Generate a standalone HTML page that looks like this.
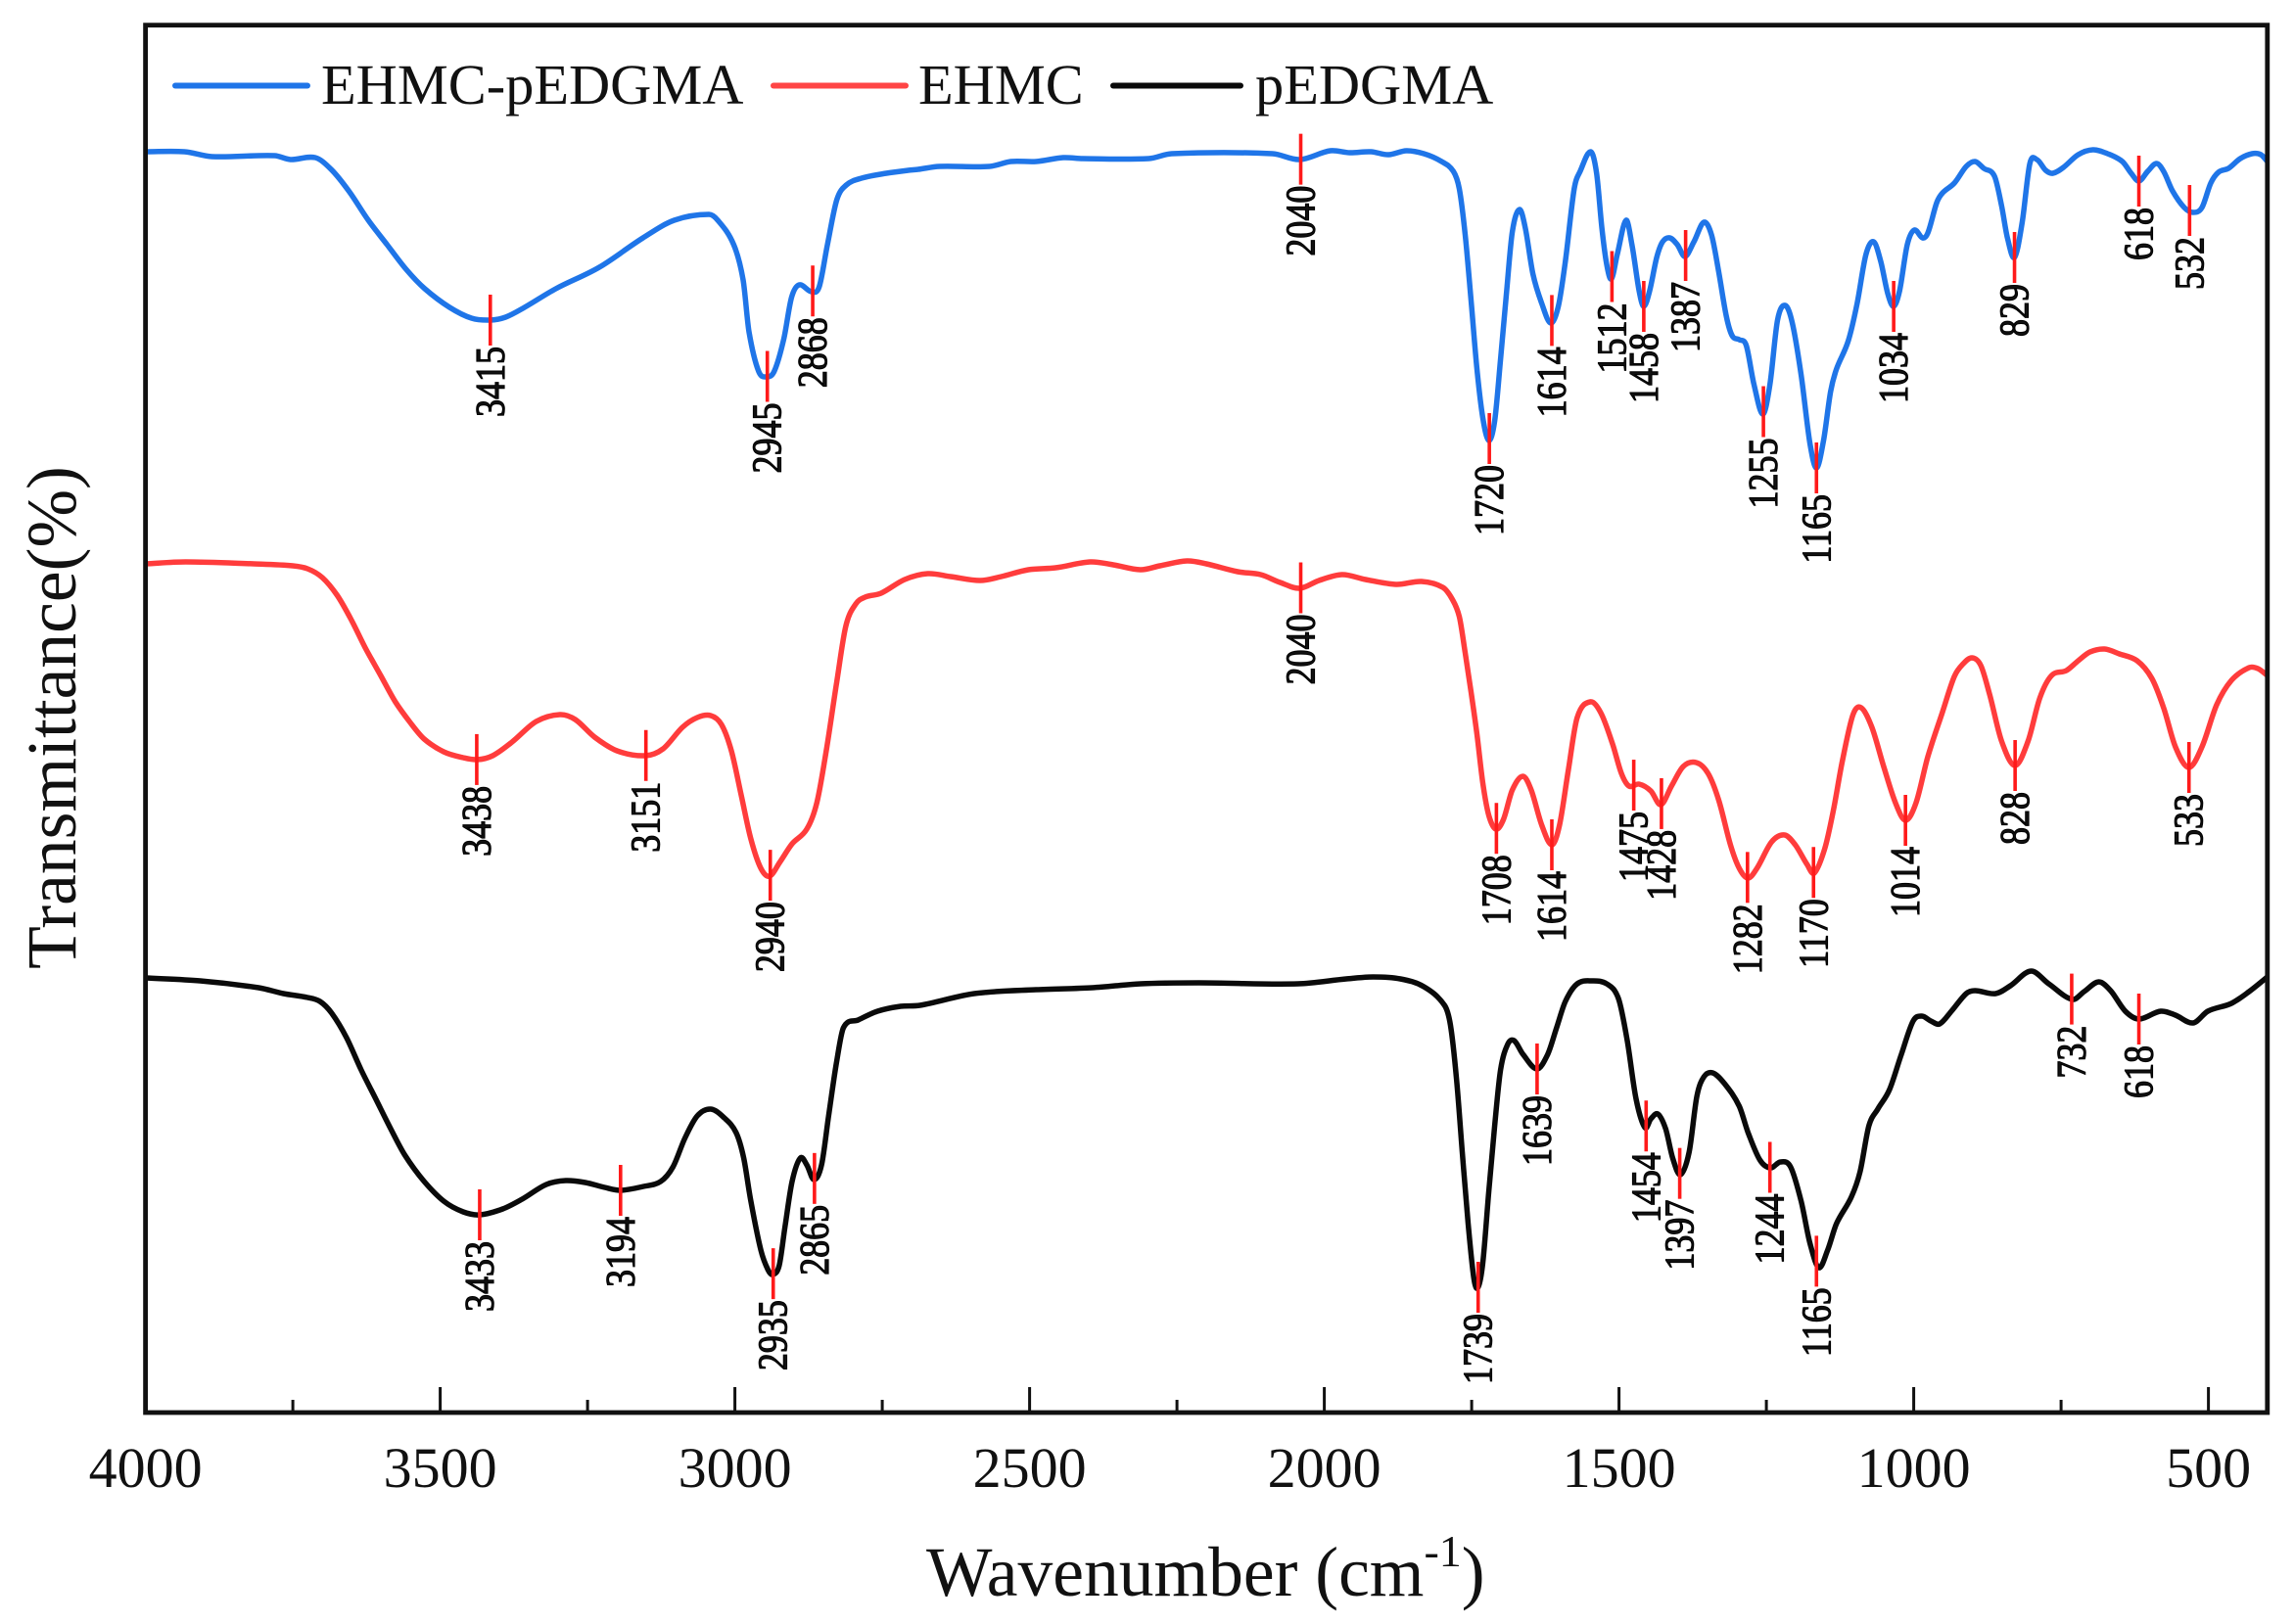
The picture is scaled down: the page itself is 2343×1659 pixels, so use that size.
<!DOCTYPE html>
<html lang="en">
<head>
<meta charset="utf-8">
<title>FTIR spectra of EHMC-pEDGMA, EHMC and pEDGMA</title>
<style>
html,body{margin:0;padding:0;background:#fff;width:2343px;height:1659px;overflow:hidden}
svg{display:block}
text{font-family:"Liberation Serif",serif;fill:#111}
</style>
</head>
<body>
<svg id="chart" xmlns="http://www.w3.org/2000/svg" width="2343" height="1659" viewBox="0 0 2343 1659">
  <rect x="0" y="0" width="2343" height="1659" fill="#fff"/>
  <g id="series-layer"></g>
  <g id="marker-layer"></g>
  <rect x="148.6" y="25.7" width="2167.2" height="1417.3" fill="none" stroke="#111" stroke-width="4.8"/>
  <g id="axis-layer"></g>
  <text x="946" y="1630" font-size="71.5">Wavenumber (cm<tspan font-size="46" dy="-30">-1</tspan><tspan dy="30">)</tspan></text>
  <text transform="translate(77,733) rotate(-90)" text-anchor="middle" font-size="71.5">Transmittance(%)</text>
  <g>
    <line x1="179" y1="87.5" x2="314" y2="87.5" stroke="#1f75e8" stroke-width="6" stroke-linecap="round"/>
    <text x="328" y="106" font-size="58.4">EHMC-pEDGMA</text>
    <line x1="790" y1="87.5" x2="925" y2="87.5" stroke="#ff4545" stroke-width="6" stroke-linecap="round"/>
    <text x="938" y="106" font-size="58.4">EHMC</text>
    <line x1="1137" y1="87.5" x2="1267" y2="87.5" stroke="#0a0a0a" stroke-width="6" stroke-linecap="round"/>
    <text x="1282" y="106" font-size="58.4">pEDGMA</text>
  </g>
</svg>
<script>
const majorTicks = [4000, 3500, 3000, 2500, 2000, 1500, 1000, 500];
const minorTicks = [3750, 3250, 2750, 2250, 1750, 1250, 750];

const blueWave = [4000,3934,3887,3781,3754,3712,3685,3654,3622,3590,
3558,3526,3484,3447,3415,3389,3357,3304,3230,3156,
3103,3044,3029,3002,2986,2976,2960,2946,2933,2917,
2904,2891,2870,2857,2843,2827,2811,2785,2743,2706,
2689,2653,2568,2532,2489,2443,2410,2298,2259,2088,
2042,1990,1957,1921,1891,1861,1831,1801,1781,1771,
1761,1751,1741,1731,1721,1711,1701,1691,1681,1669,
1659,1646,1631,1616,1603,1591,1576,1566,1548,1538,
1529,1521,1513,1503,1488,1478,1466,1458,1448,1436,
1426,1414,1401,1388,1373,1356,1343,1331,1318,1308,
1296,1284,1271,1256,1244,1231,1218,1206,1191,1176,
1165,1153,1141,1131,1111,1096,1081,1068,1056,1044,
1034,1024,1011,999,985,976,961,951,931,911,
896,881,863,851,841,829,816,803,791,776,
764,746,721,696,671,646,631,618,603,588,
576,561,541,526,511,496,483,466,446,426,
411,400];
const blueTransmittance = [128.8,128.8,128.3,128.4,128.0,128.2,127.0,124.7,121.8,119.3,
116.8,114.8,112.9,111.8,111.6,111.9,112.9,114.8,117.0,120.0,
121.8,122.4,121.8,119.3,115.7,110.4,106.4,105.8,106.4,109.7,
113.9,115.2,114.5,115.0,119.3,123.9,125.4,126.1,126.6,126.9,
127.0,127.3,127.3,127.8,127.8,128.2,128.1,128.1,128.6,128.6,
128.0,128.9,128.7,128.8,128.5,128.9,128.6,127.8,126.8,125.0,
120.3,113.6,106.6,101.6,99.3,101.3,107.6,114.3,120.6,122.9,
121.0,116.3,113.3,111.3,113.0,117.6,125.0,126.8,128.8,126.6,
121.0,117.3,115.8,118.3,121.8,119.3,114.6,113.0,114.6,118.0,
119.6,120.0,119.3,118.1,119.6,121.6,120.3,116.6,112.0,110.0,
109.6,109.0,105.0,102.0,105.0,111.6,113.1,111.3,106.0,99.0,
96.5,99.3,104.3,106.6,109.5,113.3,118.3,119.6,117.6,114.3,
113.0,114.6,119.3,120.8,120.0,120.5,123.6,124.6,125.6,127.3,
127.8,127.1,126.3,123.3,120.0,118.0,121.6,127.6,128.0,126.9,
126.6,127.2,128.5,129.0,128.6,127.8,126.6,125.8,126.8,127.6,
126.8,124.8,123.1,122.6,123.1,125.6,126.7,127.1,128.1,128.6,
128.5,127.8];

const redWave = [4000,3932,3816,3750,3725,3700,3675,3651,3626,3601,
3576,3551,3527,3494,3461,3437,3411,3378,3337,3297,
3271,3238,3200,3152,3122,3089,3064,3041,3023,3006,
2989,2973,2956,2941,2923,2903,2878,2861,2845,2828,
2812,2795,2779,2752,2712,2673,2634,2584,2548,2502,
2456,2397,2358,2312,2279,2233,2200,2147,2108,2075,
2042,2009,1970,1930,1878,1835,1799,1783,1771,1761,
1751,1741,1731,1721,1709,1696,1681,1663,1649,1631,
1614,1601,1586,1571,1549,1531,1511,1496,1483,1466,
1446,1429,1411,1391,1369,1349,1331,1311,1296,1281,
1266,1241,1219,1201,1181,1169,1151,1136,1121,1103,
1089,1071,1051,1031,1014,996,976,951,931,916,
901,886,871,851,828,806,786,766,741,721,
701,676,651,621,596,576,556,533,511,486,
461,431,416,400];
const redTransmittance = [86.7,86.9,86.7,86.5,86.2,85.3,83.5,81.0,78.0,75.3,
72.6,70.5,68.8,67.5,66.9,66.7,67.1,68.5,70.6,71.3,
70.8,69.0,67.6,67.1,67.8,70.0,71.0,71.2,70.3,67.6,
63.0,58.6,55.6,54.8,56.3,58.1,59.6,62.3,67.6,74.3,
80.3,82.6,83.3,83.7,85.1,85.7,85.4,85.0,85.4,86.1,
86.3,86.9,86.6,86.1,86.5,87.0,86.7,85.9,85.6,84.8,
84.2,85.0,85.6,85.1,84.6,84.9,84.3,83.1,81.3,77.6,
73.6,69.3,64.3,61.0,59.6,60.6,63.6,65.0,63.6,60.0,
58.0,60.0,65.6,71.0,72.6,71.5,68.3,65.3,64.0,64.2,
63.5,62.1,64.0,66.0,66.4,65.3,62.6,58.0,55.6,54.6,
55.6,58.3,59.0,58.0,56.0,55.1,57.6,61.6,66.6,71.3,
72.0,70.0,66.0,62.3,60.5,62.3,67.0,71.6,75.2,76.5,
77.1,76.3,73.3,68.6,66.1,68.6,73.0,75.3,75.8,76.8,
77.7,78.0,77.5,76.8,75.0,72.0,68.0,65.9,68.0,72.3,
74.8,76.1,76.0,75.3];

const blackWave = [4000,3907,3808,3766,3725,3704,3684,3659,3634,3609,
3584,3560,3527,3494,3461,3433,3394,3361,3320,3287,
3254,3221,3194,3155,3126,3105,3085,3064,3041,3018,
2998,2985,2973,2956,2944,2936,2925,2915,2903,2889,
2878,2866,2853,2841,2828,2816,2791,2758,2719,2686,
2594,2489,2394,2312,2213,2045,1963,1917,1871,1831,
1796,1786,1776,1766,1756,1746,1739,1731,1721,1711,
1701,1689,1678,1663,1639,1621,1606,1591,1571,1546,
1521,1501,1486,1471,1456,1446,1434,1421,1409,1396,
1381,1368,1356,1341,1321,1296,1281,1261,1243,1226,
1209,1191,1176,1161,1146,1131,1106,1091,1076,1061,
1041,1021,1001,986,971,956,936,911,896,861,
836,801,771,731,711,686,666,641,618,581,
556,526,501,461,431,400];
const blackTransmittance = [44.4,44.1,43.4,42.8,42.4,42.0,40.8,38.3,35.0,32.0,
29.0,26.3,23.6,21.6,20.5,20.2,20.8,21.8,23.3,23.7,
23.5,23.0,22.7,23.1,23.6,25.1,28.0,30.3,31.0,30.1,
28.6,26.0,21.6,16.6,14.6,14.1,15.0,19.0,23.6,26.0,
25.3,23.8,25.3,30.3,35.6,39.3,40.1,41.0,41.5,41.6,
42.8,43.2,43.4,43.8,43.9,43.8,44.3,44.5,44.3,43.5,
41.6,39.6,34.3,26.6,19.3,13.6,12.8,15.3,22.6,29.3,
35.0,37.6,38.0,36.6,35.1,36.6,39.3,42.0,43.8,44.1,
43.8,42.3,38.0,32.0,29.1,30.0,30.5,29.0,26.0,24.3,
26.6,32.3,34.3,34.7,33.6,31.3,28.6,25.8,25.0,25.6,
25.1,21.6,17.3,14.8,16.6,19.3,22.0,24.6,29.3,31.0,
33.0,36.6,40.0,40.5,40.0,39.7,41.0,42.8,43.1,42.8,
43.6,45.1,43.8,42.2,43.0,44.0,43.1,41.0,40.2,41.0,
40.6,39.8,41.0,41.8,43.0,44.5];

const bluePeaks = [3415,2945,2868,2040,1720,1614,1512,1458,1387,1255,1165,1034,829,618,532];
const redPeaks = [3438,3151,2940,2040,1708,1614,1475,1428,1282,1170,1014,828,533];
const blackPeaks = [3433,3194,2935,2865,1739,1639,1454,1397,1244,1165,732,618];

const NS = 'http://www.w3.org/2000/svg';

function xScale(w) { return 148.6 + (4000 - w) * 0.602; }
function yScale(t) { return 1443 - t * 10; }

function spectrumPath(wave, trans) {
  const px = wave.map(xScale);
  const py = trans.map(yScale);
  const n = px.length;
  const slope = [];
  for (let i = 0; i < n; i++) {
    const a = Math.max(0, i - 1);
    const b = Math.min(n - 1, i + 1);
    slope.push((py[b] - py[a]) / (px[b] - px[a]));
  }
  let d = 'M' + px[0].toFixed(1) + ' ' + py[0].toFixed(1);
  for (let i = 0; i < n - 1; i++) {
    const h = (px[i + 1] - px[i]) / 3;
    d += 'C' + (px[i] + h).toFixed(1) + ' ' + (py[i] + slope[i] * h).toFixed(1) + ' ' +
         (px[i + 1] - h).toFixed(1) + ' ' + (py[i + 1] - slope[i + 1] * h).toFixed(1) + ' ' +
         px[i + 1].toFixed(1) + ' ' + py[i + 1].toFixed(1);
  }
  return d;
}

function valueAt(wave, trans, w) {
  for (let i = 0; i < wave.length - 1; i++) {
    if (w <= wave[i] && w >= wave[i + 1]) {
      const f = (wave[i] - w) / (wave[i] - wave[i + 1]);
      return trans[i] + (trans[i + 1] - trans[i]) * f;
    }
  }
  return trans[trans.length - 1];
}

const seriesLayer = document.getElementById('series-layer');
const markerLayer = document.getElementById('marker-layer');
const axisLayer = document.getElementById('axis-layer');

function drawSeries(name, color, width, wave, trans) {
  const path = document.createElementNS(NS, 'path');
  path.setAttribute('d', spectrumPath(wave, trans));
  path.setAttribute('fill', 'none');
  path.setAttribute('stroke', color);
  path.setAttribute('stroke-width', width);
  path.setAttribute('stroke-linejoin', 'round');
  
  
  seriesLayer.appendChild(path);
}

function drawPeaks(name, peaks, wave, trans) {
  peaks.forEach(function (w) {
    const x = xScale(w);
    const y = yScale(valueAt(wave, trans, w));
    const tick = document.createElementNS(NS, 'line');
    tick.setAttribute('x1', x);
    tick.setAttribute('x2', x);
    tick.setAttribute('y1', y - 26);
    tick.setAttribute('y2', y + 26);
    tick.setAttribute('stroke', '#ff1a1a');
    tick.setAttribute('stroke-width', '3.6');
    
    
    markerLayer.appendChild(tick);
    const label = document.createElementNS(NS, 'text');
    label.setAttribute('transform', 'translate(' + (x + 14) + ',' + (y + 27) + ') rotate(-90) scale(1,1.17)');
    label.setAttribute('text-anchor', 'end');
    label.setAttribute('font-size', '36');
    label.setAttribute('stroke', '#000');
    label.setAttribute('stroke-width', '1');
    
    
    label.textContent = String(w);
    markerLayer.appendChild(label);
  });
}

function drawTicks() {
  majorTicks.forEach(function (w) {
    const x = xScale(w);
    const tick = document.createElementNS(NS, 'line');
    tick.setAttribute('x1', x);
    tick.setAttribute('x2', x);
    tick.setAttribute('y1', 1443);
    tick.setAttribute('y2', 1417);
    tick.setAttribute('stroke', '#111');
    tick.setAttribute('stroke-width', '3');
    
    
    axisLayer.appendChild(tick);
    const label = document.createElementNS(NS, 'text');
    label.setAttribute('x', x);
    label.setAttribute('y', 1519);
    label.setAttribute('text-anchor', 'middle');
    label.setAttribute('font-size', '58');
    
    
    label.textContent = String(w);
    axisLayer.appendChild(label);
  });
  minorTicks.forEach(function (w) {
    const x = xScale(w);
    const tick = document.createElementNS(NS, 'line');
    tick.setAttribute('x1', x);
    tick.setAttribute('x2', x);
    tick.setAttribute('y1', 1443);
    tick.setAttribute('y2', 1430);
    tick.setAttribute('stroke', '#111');
    tick.setAttribute('stroke-width', '3');
    
    
    axisLayer.appendChild(tick);
  });
}

drawSeries('series-ehmc-pedgma', '#1f75e8', 5.5, blueWave, blueTransmittance);
drawSeries('series-ehmc', '#ff3c3c', 5.5, redWave, redTransmittance);
drawSeries('series-pedgma', '#0a0a0a', 5.5, blackWave, blackTransmittance);
drawPeaks('ehmc-pedgma', bluePeaks, blueWave, blueTransmittance);
drawPeaks('ehmc', redPeaks, redWave, redTransmittance);
drawPeaks('pedgma', blackPeaks, blackWave, blackTransmittance);
drawTicks();
</script>
</body>
</html>
